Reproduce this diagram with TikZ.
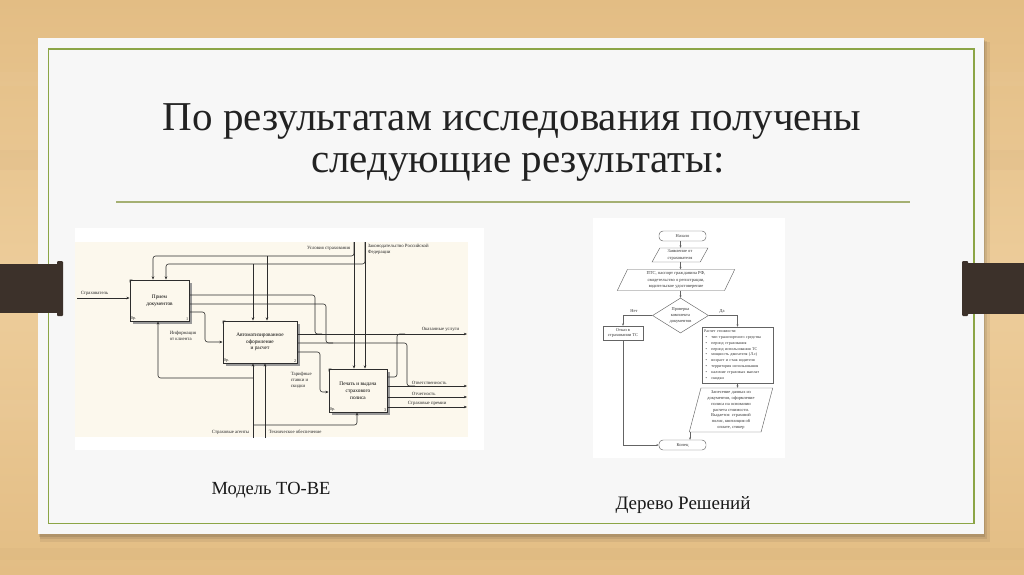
\documentclass[tikz,border=0pt]{standalone}
\usepackage{fontspec}
\setmainfont{Liberation Serif}
\usetikzlibrary{arrows.meta,shapes.geometric,shadows}

\definecolor{woodtop}{RGB}{227,189,132}
\definecolor{woodmid}{RGB}{237,205,155}
\definecolor{card}{RGB}{247,247,247}
\definecolor{framegreen}{RGB}{140,165,70}
\definecolor{rulegreen}{RGB}{165,176,115}
\definecolor{clipc}{RGB}{60,49,42}
\definecolor{cream}{RGB}{252,248,237}
\definecolor{idefline}{RGB}{45,45,45}
\definecolor{flowline}{RGB}{100,100,100}
\definecolor{titletext}{RGB}{34,34,34}

\begin{document}
\begin{tikzpicture}[x=1pt,y=-1pt,
  idefbox/.style={draw=idefline, line width=0.9pt, fill=cream, align=center,
    font=\fontsize{5.3}{6.8}\selectfont, inner sep=1pt,
    drop shadow={shadow xshift=2.5pt, shadow yshift=-2.5pt, fill=black!40, opacity=1}},
  idefsmall/.style={font=\fontsize{4.3}{5}\selectfont, inner sep=1pt, text=black!85},
  idefln/.style={draw=idefline, line width=0.6pt, rounded corners=2.5pt},
  idefarr/.style={idefln, -{Stealth[length=3.2pt,width=2.6pt]}},
  ideflab/.style={font=\fontsize{4.8}{5.8}\selectfont, inner sep=0.6pt, text=black!85},
  flbox/.style={draw=flowline, line width=0.45pt, fill=white, align=center,
    font=\fontsize{4.5}{6.2}\selectfont, inner sep=1pt, text=black!80},
  flpar/.style={flbox, trapezium, trapezium stretches=true},
  flterm/.style={flbox, rounded corners=4pt, minimum width=47pt, minimum height=10pt},
  flarr/.style={draw=flowline, line width=0.45pt, -{Stealth[length=2.4pt,width=2pt]}},
  fllab/.style={font=\fontsize{4.5}{5.5}\selectfont, inner sep=0.5pt, text=black!80}
]
\useasboundingbox (0,0) rectangle (1024,574);

% wooden background
\shade[top color=woodtop, bottom color=woodtop, middle color=woodmid] (0,0) rectangle (1024,574);
\fill[white, opacity=0.03] (0,72) rectangle (1024,86);
\fill[black, opacity=0.015] (0,150) rectangle (1024,170);
\fill[white, opacity=0.03] (0,400) rectangle (1024,420);
\fill[black, opacity=0.015] (0,548) rectangle (1024,560);

% card with shadow
\fill[black, opacity=0.06] (40,42) rectangle (990,542);
\fill[black, opacity=0.08] (40,41) rectangle (987,539);
\fill[black, opacity=0.10] (39,40) rectangle (985,537);
\fill[card] (38,38) rectangle (984,534);
\draw[framegreen, line width=1.2pt] (48.5,49) rectangle (974,523.5);

% clips
\fill[clipc] (0,264) rectangle (60,313);
\fill[clipc, rounded corners=1pt] (57,261) rectangle (63,316);
\fill[clipc] (965,263) rectangle (1024,314);
\fill[clipc, rounded corners=1pt] (962,261) rectangle (968,316);

% title
\node[anchor=base, text=titletext, font=\fontsize{41}{42}\selectfont, inner sep=0] (t1) at (512,130) {По результатам исследования получены};
\node[anchor=base, text=titletext, font=\fontsize{41}{42}\selectfont, inner sep=0] (t2) at (518,172) {следующие результаты:};
\draw[rulegreen, line width=1.4pt] (116,202) -- (910,202);

% captions
\node[anchor=base, font=\fontsize{18.5}{20}\selectfont, text=black!90, inner sep=0] (cap1) at (271,494) {Модель ТО-ВЕ};
\node[anchor=base, font=\fontsize{19}{20}\selectfont, text=black!90, inner sep=0] (cap2) at (683,509) {Дерево Решений};

% ================= IDEF0 diagram =================
\fill[white] (75,228) rectangle (484,450);
\fill[cream] (75,242) rectangle (468,437);

\node[idefbox, minimum width=59pt, minimum height=41pt] (b1) at (159.5,300.5) {Прием\\документов};
\node[idefbox, minimum width=74pt, minimum height=42pt] (b2) at (260,342) {Автоматизированное\\оформление\\и расчет};
\node[idefbox, minimum width=58pt, minimum height=43pt] (b3) at (358,390.5) {Печать и выдача\\страхового\\полиса};
\foreach \b/\n in {b1/1,b2/2,b3/3}{
  \node[idefsmall, anchor=south west] (\b o) at (\b.south west) {0р.};
  \node[idefsmall, anchor=south east] (\b n) at (\b.south east) {\n};
  \fill[idefline] (\b.north west) -- ++(3,0) -- ++(-3,3) -- cycle;
}

% input
\coordinate (inS) at (77,298);
\draw[idefarr] (inS) -- (inS -| b1.west);
\node[ideflab, anchor=south west] (lS) at (80,296.5) {Страхователь};

% controls
\coordinate (cU) at (354,242);
\coordinate (cZ) at (365,242);
\draw[idefarr] (cU) -- (cU |- b3.north);
\draw[idefarr] (cZ) -- (cZ |- b3.north);
\draw[idefarr] (cU) -- (354,256) -- (153,256) -- (153,0 |- b1.north);
\draw[idefarr] (267,256) -- (267,0 |- b2.north);
\draw[idefarr] (cZ) -- (365,264) -- (166,264) -- (166,0 |- b1.north);
\draw[idefarr] (253,264) -- (253,0 |- b2.north);
\node[ideflab, anchor=east] (lU) at (351,248) {Условия страхования};
\node[ideflab, anchor=north west, align=left] (lZ) at (367,243.5) {Законодательство Российской\\Федерации};

% outputs of box 1
\draw[idefln] (b1.east |- 0,295) -- (315,295) -- (315,334) -- (322,334);
\draw[idefln] (b1.east |- 0,304) -- (326,304) -- (326,343) -- (333,343);
\draw[idefarr] (b1.east |- 0,312) -- (205,312) -- (205,342) -- (b2.west);
\node[ideflab, anchor=west, align=left] (lI) at (169,335.5) {Информация\\от клиента};

% outputs of box 2
\coordinate (oOU) at (467,334);
\draw[idefarr] (b2.east |- 0,334) -- (oOU);
\node[ideflab, anchor=south east] (lOU) at (460,332.5) {Оказанные услуги};
\draw[idefln] (b2.east |- 0,343) -- (407,343) -- (407,386) -- (415,386);
\draw[idefarr] (b2.east |- 0,352) -- (320,352) -- (320,392) -- (b3.west |- 0,392);
\node[ideflab, anchor=west, align=left] (lT) at (290,380) {Тарифные\\ставки и\\скидки};

% outputs of box 3
\draw[idefln] (b3.east |- 0,377) -- (397,377) -- (397,334) -- (405,334);
\coordinate (oOT) at (467,386);
\coordinate (oOC) at (467,397);
\coordinate (oSP) at (467,407);
\draw[idefarr] (b3.east |- oOT) -- (oOT);
\draw[idefarr] (b3.east |- oOC) -- (oOC);
\draw[idefarr] (b3.east |- oSP) -- (oSP);
\node[ideflab, anchor=south west] (lOT) at (411,385) {Ответственность};
\node[ideflab, anchor=south west] (lOC) at (411,396) {Отчетность};
\node[ideflab, anchor=south west] (lSP) at (407,406) {Страховые премии};

% mechanisms
\coordinate (mA) at (253,438);
\coordinate (mT) at (265,438);
\draw[idefarr] (mA) -- (mA |- b2.south);
\draw[idefarr] (mT) -- (mT |- b2.south);
\draw[idefarr] (253,378) -- (158,378) -- (158,0 |- b1.south);
\draw[idefarr] (253,425) -- (357,425) -- (357,0 |- b3.south);
\node[ideflab, anchor=east] (lA) at (250,432) {Страховые агенты};
\node[ideflab, anchor=west] (lTO) at (268,432) {Техническое обеспечение};

% ================= Flowchart =================
\fill[white] (593,218) rectangle (785,458);

\node[flterm] (beg) at (682.5,236) {Начало};
\node[flpar, minimum width=56pt, minimum height=14pt, trapezium left angle=67, trapezium right angle=113] (p1) at (680,255) {Заявление от\\страхователя};
\node[flpar, minimum width=118pt, minimum height=21pt, trapezium left angle=71, trapezium right angle=109] (p2) at (676,280) {ПТС, паспорт гражданина РФ,\\свидетельство о регистрации,\\водительское удостоверение};
\node[flbox, diamond, shape aspect=1.6, minimum width=56pt, minimum height=35pt, inner sep=0pt, font=\fontsize{4.4}{5.6}\selectfont] (d) at (680.5,315.5) {Проверка\\комплекта\\документов};
\node[flbox, minimum width=40pt, minimum height=14pt, font=\fontsize{4.4}{5.6}\selectfont] (no) at (623,333) {Отказ в\\страховании ТС};
\node[flbox, minimum width=71pt, minimum height=56pt, text width=67pt, align=left, font=\fontsize{4.1}{5.9}\selectfont] (calc) at (737.5,355) {Расчет стоимости:\\
\hspace*{1.5pt}\textbullet\hspace{4.5pt}тип транспортного средства\\
\hspace*{1.5pt}\textbullet\hspace{4.5pt}период страхования\\
\hspace*{1.5pt}\textbullet\hspace{4.5pt}период использования ТС\\
\hspace*{1.5pt}\textbullet\hspace{4.5pt}мощность двигателя (Л.с)\\
\hspace*{1.5pt}\textbullet\hspace{4.5pt}возраст и стаж водителя\\
\hspace*{1.5pt}\textbullet\hspace{4.5pt}территория использования\\
\hspace*{1.5pt}\textbullet\hspace{4.5pt}наличие страховых выплат\\
\hspace*{1.5pt}\textbullet\hspace{4.5pt}скидки};
\node[flpar, minimum width=84pt, minimum height=44pt, trapezium left angle=77, trapezium right angle=103, font=\fontsize{4.4}{5.9}\selectfont] (p3) at (731,410) {Занесение данных из\\документов, оформление\\полиса на основании\\расчета стоимости.\\Выдается: страховой\\полис, квитанция об\\оплате, стикер};
\node[flterm] (fin) at (682.5,445) {Конец};

\draw[flarr] (d.north |- beg.south) -- (d.north |- p1.north);
\draw[flarr] (d.north |- p1.south) -- (d.north |- p2.north);
\draw[flarr] (d.north |- p2.south) -- (d.north);
\draw[flarr] (d.west) -| (no.north);
\draw[flarr] (d.east) -| (calc.north);
\draw[flarr] (calc.south) -- (calc.south |- p3.north);
\draw[flarr] (690,0 |- p3.south) -- (690,0 |- fin.north);
\draw[flarr] (no.south) |- (fin.west);
\node[fllab] (lNo) at (634,311.5) {Нет};
\node[fllab] (lYes) at (722,311.5) {Да};

\end{tikzpicture}
\end{document}
